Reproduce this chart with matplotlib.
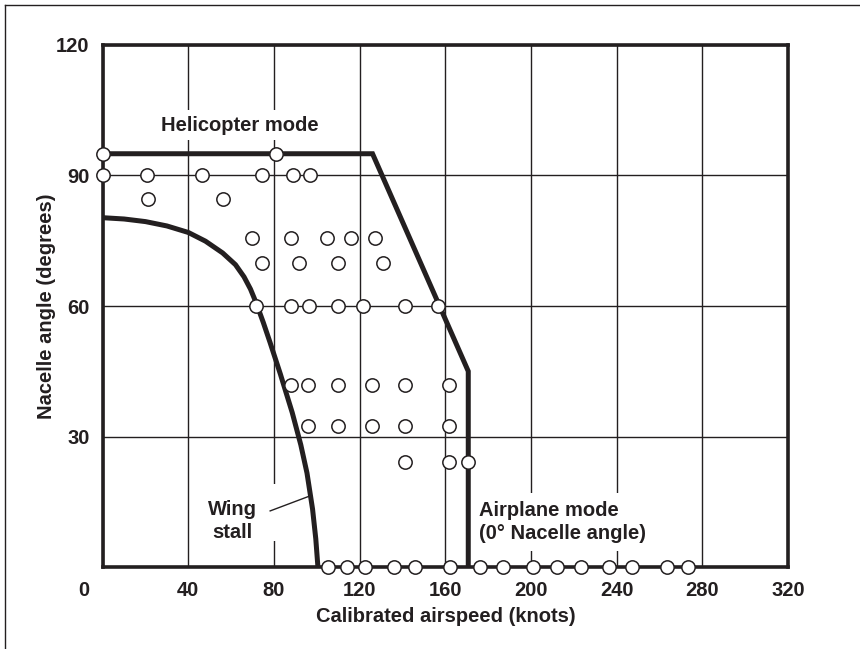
import matplotlib.pyplot as plt
from matplotlib.lines import Line2D
from matplotlib.patches import Rectangle
from matplotlib.transforms import ScaledTranslation

plt.rcParams['font.family'] = ['Liberation Sans', 'DejaVu Sans']
plt.rcParams['font.weight'] = 'bold'
plt.rcParams['axes.labelweight'] = 'bold'
plt.rcParams['font.size'] = 14.5

INK = '#231f20'

# conversion envelope (knots, degrees)
heli_kt = [0, 126, 170.7, 170.7]
heli_deg = [95, 95, 45, 0]

# wing stall boundary
stall_kt = [0, 10, 20, 30, 40, 48, 56, 62, 66, 69, 71.6, 75, 78.1, 83, 88.5,
            92.5, 95.4, 98, 99.5, 100.5]
stall_deg = [80.3, 80.0, 79.4, 78.4, 76.9, 74.9, 72.2, 69.5, 66.7, 63.9, 60.8, 56.2,
             51.7, 44.3, 35.5, 28.1, 21.6, 13.3, 6.5, 0]

# test points flown
pts_kt = [0, 81,
          0, 20.5, 46.5, 74.5, 88.7, 96.8,
          21, 56.3,
          69.8, 87.8, 104.6, 115.8, 127.3,
          74.5, 91.7, 110, 130.7,
          71.6, 87.8, 96.5, 109.7, 121.7, 141.1, 156.4,
          87.8, 96, 109.7, 125.9, 141.1, 161.7,
          96, 109.7, 125.9, 141.1, 161.7,
          141.1, 161.7, 170.7,
          105.3, 113.9, 122.5, 136, 145.8, 162.1, 176.1, 186.7,
          201, 212.2, 223.3, 236.4, 247.3, 263.3, 273.4]
pts_deg = [95, 95,
           90, 90, 90, 90, 90, 90,
           84.5, 84.5,
           75.6, 75.6, 75.6, 75.6, 75.6,
           69.8, 69.8, 69.8, 69.8,
           60, 60, 60, 60, 60, 60, 60,
           41.8, 41.8, 41.8, 41.8, 41.8, 41.8,
           32.5, 32.5, 32.5, 32.5, 32.5,
           24.1, 24.1, 24.1,
           0, 0, 0, 0, 0, 0, 0, 0,
           0, 0, 0, 0, 0, 0, 0]

x_ticks = [0, 40, 80, 120, 160, 200, 240, 280, 320]
y_ticks = [30, 60, 90, 120]

fig = plt.figure(figsize=(8.6, 6.49), dpi=100)
ax = fig.add_axes([0.1194, 0.1263, 0.7969, 0.8044])

ax.set_xlim(0, 320)
ax.set_ylim(0, 120)
ax.set_xticks(x_ticks)
ax.set_xticklabels([str(v) for v in x_ticks])
ax.set_yticks(y_ticks)
ax.set_yticklabels([str(v) for v in y_ticks])
ax.tick_params(length=0, labelsize=14.5, colors=INK)
ax.tick_params(axis='x', pad=10)
ax.tick_params(axis='y', pad=9.5)
ax.grid(True, color=INK, lw=1.0)
ax.set_axisbelow(True)
for s in ax.spines.values():
    s.set_linewidth(2.6)
    s.set_color(INK)

# the "0" sits out at the corner
lbl0 = ax.get_xticklabels()[0]
lbl0.set_transform(lbl0.get_transform() + ScaledTranslation(-0.19, 0, fig.dpi_scale_trans))

ax.set_xlabel('Calibrated airspeed (knots)', fontsize=14.5, color=INK, labelpad=5)
ax.set_ylabel('Nacelle angle (degrees)', fontsize=14.5, color=INK, labelpad=0)

ax.plot(heli_kt, heli_deg, color=INK, lw=3.6, zorder=4, solid_joinstyle='miter')
ax.plot(stall_kt, stall_deg, color=INK, lw=3.6, zorder=4, solid_joinstyle='round')

ax.plot(pts_kt, pts_deg, ls='none', marker='o', ms=9.6, mfc='white', mec=INK,
        mew=1.1, zorder=6, clip_on=False)

box = dict(facecolor='white', edgecolor='none', pad=4)
ax.text(64.1, 101.6, 'Helicopter mode', ha='center', va='center', color=INK,
        bbox=box, zorder=3)
ax.text(60.4, 10.6, 'Wing\nstall', ha='center', va='center', color=INK,
        linespacing=1.25, bbox=dict(facecolor='white', edgecolor='none', pad=8), zorder=3)
ax.add_patch(Rectangle((74, 6), 9, 13, facecolor='white', edgecolor='none', zorder=1))
ax.plot([78.2, 96], [12.9, 16.2], color=INK, lw=1.0, zorder=4)
ax.text(175.9, 10.3, 'Airplane mode\n(0\u00b0 Nacelle angle)', ha='left', va='center',
        color=INK, linespacing=1.25, bbox=dict(facecolor='white', edgecolor='none', pad=6),
        zorder=3)

# partial frame along the top and left edges
fig.add_artist(Line2D([0.006, 1.0], [0.992, 0.992], color=INK, lw=1.0))
fig.add_artist(Line2D([0.006, 0.006], [0.0, 0.992], color=INK, lw=1.0))

fig.savefig('out.png', dpi=100)
